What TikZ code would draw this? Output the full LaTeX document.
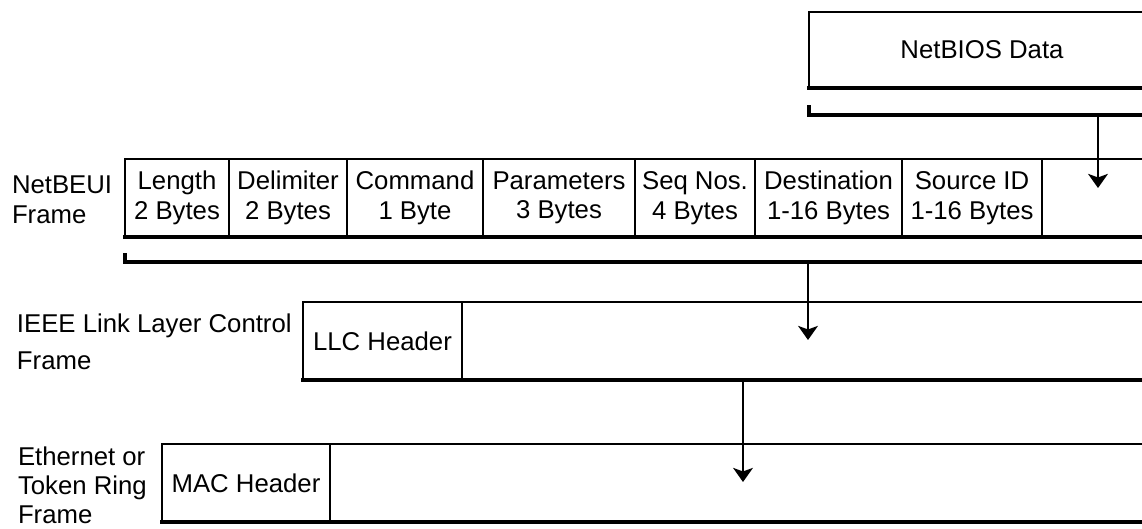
\documentclass[tikz,border=0pt]{standalone}
\usepackage{fontspec}
\setmainfont{Liberation Sans}
\usetikzlibrary{arrows.meta,positioning}

\begin{document}
\begin{tikzpicture}[x=0.025cm, y=-0.025cm,
    every node/.style={font=\fontsize{18.3}{21}\selectfont, inner sep=0pt, outer sep=0pt},
    cell/.style={draw, line width=1.3pt, minimum height=78*0.025cm, minimum width=#1*0.025cm, align=center},
    rim/.style={line width=1.3pt},
    base/.style={line width=2.5pt, line cap=rect},
    down/.style={line width=2.1pt, -{Stealth[length=10pt, width=14pt, inset=2.5pt]}},
    lbl/.style={anchor=west, align=left}]
  \def\xr{1142} \def\yr{528}
  \useasboundingbox (0,0) rectangle (\xr,\yr);
  \coordinate (edge) at (\xr,0);

  \node[minimum width=346*0.025cm, minimum height=76*0.025cm, anchor=west] (nbdata) at (809,50) {NetBIOS Data};
  \draw[rim] (nbdata.north -| edge) -- (nbdata.north west) -- (nbdata.south west);
  \draw[base] (nbdata.south west) -- (nbdata.south -| edge);
  \coordinate (tick1) at (809,107);
  \coordinate (bar1) at (809,115);
  \coordinate (from1) at (1098,115);
  \coordinate (to1) at (1098,188);
  \draw[base] (tick1) -- (bar1) -- (bar1 -| edge);
  \draw[down] (from1) -- (to1);

  \node[lbl] (beuilbl) at (12,200) {NetBEUI\\Frame};
  \node[cell=104, anchor=north west] (len) at (125,159) {Length\\2 Bytes};
  \node[cell=118, right=0pt of len] (dlm) {Delimiter\\2 Bytes};
  \node[cell=136, right=0pt of dlm] (cmd) {Command\\1 Byte};
  \node[cell=152, right=0pt of cmd] (prm) {Parameters\\3 Bytes};
  \node[cell=120, right=0pt of prm] (seq) {Seq Nos.\\4 Bytes};
  \node[cell=147, right=0pt of seq] (dst) {Destination\\1-16 Bytes};
  \node[cell=140, right=0pt of dst] (src) {Source ID\\1-16 Bytes};
  \draw[rim] (src.north east) -- (src.north east -| edge);
  \draw[base] (len.south west) -- (len.south west -| edge);
  \coordinate (tick2) at (125,255);
  \coordinate (bar2) at (125,262);
  \coordinate (from2) at (808,262);
  \coordinate (to2) at (808,340);
  \draw[base] (tick2) -- (bar2) -- (bar2 -| edge);
  \draw[down] (from2) -- (to2);

  \node[lbl, font=\fontsize{18.3}{26}\selectfont] (llclbl) at (17,342) {IEEE Link Layer Control\\Frame};
  \node[cell=159, anchor=north west] (llc) at (303,302) {LLC Header};
  \draw[rim] (llc.north east) -- (llc.north east -| edge);
  \draw[base] (llc.south west) -- (llc.south west -| edge);
  \coordinate (from3) at (743,380);
  \coordinate (to3) at (743,482);
  \draw[down] (from3) -- (to3);

  \node[lbl, font=\fontsize{18.3}{20.5}\selectfont] (maclbl) at (18,485) {Ethernet or\\Token Ring\\Frame};
  \node[cell=168, anchor=north west] (mac) at (162,444) {MAC Header};
  \draw[rim] (mac.north east) -- (mac.north east -| edge);
  \draw[base] (mac.south west) -- (mac.south west -| edge);
\end{tikzpicture}
\end{document}
